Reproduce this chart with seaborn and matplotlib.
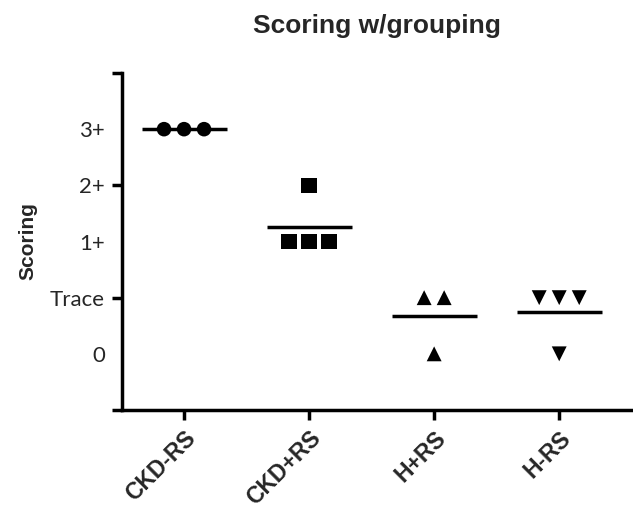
import matplotlib.pyplot as plt
import numpy as np
import pandas as pd
import seaborn as sns

# Data (scores on the plotted scale: 1 = "0", 2 = "Trace", 3 = "1+", 4 = "2+", 5 = "3+")
groups = ["CKD-RS", "CKD+RS", "H+RS", "H-RS"]
ckd_minus_rs = [5, 5, 5]
ckd_plus_rs = [4, 3, 3, 3]
h_plus_rs = [2, 2, 1]
h_minus_rs = [2, 2, 2, 1]
score_ticks = [1, 2, 3, 4, 5]
score_labels = ["0", "Trace", "1+", "2+", "3+"]
group_markers = ["o", "s", "^", "v"]
group_sizes = [110, 125, 115, 115]

df = pd.DataFrame({
    "group": np.repeat(groups, [len(ckd_minus_rs), len(ckd_plus_rs), len(h_plus_rs), len(h_minus_rs)]),
    "score": ckd_minus_rs + ckd_plus_rs + h_plus_rs + h_minus_rs,
})
df["idx"] = df["group"].map({g: i for i, g in enumerate(groups)})

# spread tied points side by side (column scatter)
rank = df.groupby(["group", "score"]).cumcount()
count = df.groupby(["group", "score"])["score"].transform("size")
df["x"] = df["idx"] + (rank - (count - 1) / 2) * 0.16

means = df.groupby("idx")["score"].mean()

# Plot
sns.set_style("ticks")
plt.rcParams["font.family"] = ["Liberation Sans", "DejaVu Sans"]

fig = plt.figure(figsize=(6.33, 5.09), dpi=100)
ax = fig.add_axes([121.5 / 633, 99 / 509, 511.5 / 633, 337 / 509])

sns.scatterplot(
    data=df, x="x", y="score", style="group", size="group",
    markers=dict(zip(groups, group_markers)), sizes=dict(zip(groups, group_sizes)),
    color="black", edgecolor="black", linewidth=0, legend=False, ax=ax, zorder=3,
)
ax.hlines(means.values, means.index - 0.34, means.index + 0.34, color="black", lw=2.5, zorder=2)

ax.set_xlim(-0.5, 3.59)
ax.set_ylim(0, 6)

# Axes style
sns.despine(ax=ax)
for side in ["left", "bottom"]:
    ax.spines[side].set_linewidth(2.5)
    ax.spines[side].set_color("black")

# X-axis
ax.set_xticks(range(len(groups)))
ax.set_xticklabels(groups, rotation=45, ha="right", rotation_mode="anchor",
                   fontsize=16.5, fontweight="bold")
ax.tick_params(axis="x", length=7, width=2.5, color="black", pad=5)
ax.set_xlabel(None)

# Y-axis
ax.yaxis.remove_overlapping_locs = False
ax.set_yticks(score_ticks)
ax.set_yticklabels(score_labels, fontsize=16, family="Lato")
ax.set_yticks([0, 2, 4, 6], minor=True)
ax.tick_params(axis="y", which="major", length=0, pad=12)
ax.tick_params(axis="y", which="minor", length=7, width=2.5, color="black")
ax.set_ylabel("Scoring", fontsize=15, fontweight="bold", labelpad=9)

ax.set_title("Scoring w/grouping", fontsize=19, fontweight="bold", pad=29)

plt.savefig("out.png", dpi=100)
